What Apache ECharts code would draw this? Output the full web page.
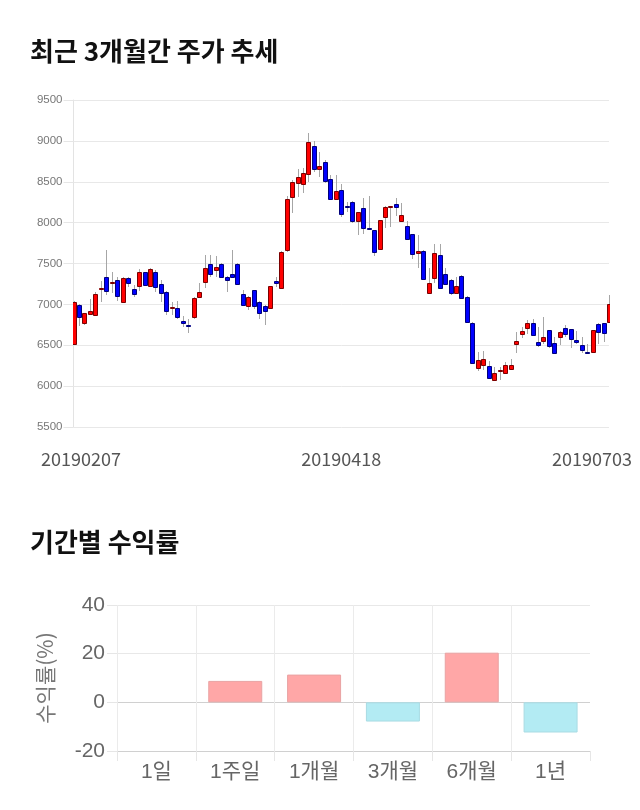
<!DOCTYPE html>
<html>
<head>
<meta charset="utf-8">
<script src="https://cdn.jsdelivr.net/npm/echarts@6/dist/echarts.min.js"></script>
<style>
html,body{margin:0;padding:0;background:#fff;}
#c{width:640px;height:810px;}
</style>
</head>
<body>
<div id="c"></div>
<script>
// ---- Candlestick data (daily, 99 trading days) ----
const opens = [6520,6990,6770,6880,6870,7195,7330,7260,7300,7035,7325,7185,7225,7390,7225,7400,7250,7155,6960,6955,6800,6750,6845,7095,7275,7490,7425,7500,7330,7370,7500,7125,6975,7175,7035,6980,6955,7280,7200,7665,8310,8480,8475,8590,8935,8660,8740,8530,8295,8400,8200,8250,8015,8175,7940,7910,7675,8065,8195,8230,8025,7960,7860,7625,7655,7145,7320,7605,7370,7300,7145,7345,7095,6775,6220,6260,6245,6075,6190,6160,6205,6510,6640,6705,6770,6545,6555,6685,6525,6600,6715,6695,6565,6505,6420,6415,6760,6770,6780];
const closes = [7030,6840,6890,6915,7125,7200,7165,7275,7100,7325,7265,7125,7400,7235,7430,7210,7145,6925,6965,6850,6770,6745,7080,7155,7440,7370,7455,7330,7295,7330,7245,6990,7090,6980,6890,6925,7220,7265,7640,8285,8500,8555,8605,8985,8650,8695,8515,8295,8390,8100,8195,8015,8125,7930,7935,7645,8030,8190,8200,8195,8095,7795,7615,7655,7310,7265,7625,7195,7245,7135,7225,7075,6790,6280,6320,6330,6095,6165,6195,6260,6260,6555,6675,6770,6625,6500,6600,6490,6410,6665,6635,6575,6540,6440,6415,6685,6665,6655,7000];
const lows = [6500,6740,6750,6870,6860,7030,7115,7140,7045,7020,7215,7095,7165,7225,7210,7155,7035,6870,6870,6820,6720,6650,6820,7085,7195,7340,7340,7320,7155,7320,7240,6980,6930,6940,6820,6750,6950,7210,7190,7645,8120,8315,8360,8500,8615,8555,8490,8275,8280,8065,8135,8000,7850,7860,7930,7590,7670,7930,7950,8075,8020,7790,7550,7440,7300,7125,7260,7190,7240,7110,7140,7070,6780,6275,6190,6200,6090,6060,6075,6150,6200,6410,6585,6640,6620,6480,6520,6465,6400,6505,6600,6465,6520,6410,6410,6410,6515,6545,6775];
const highs = [7040,7000,6900,7065,7150,7280,7665,7390,7330,7340,7340,7240,7430,7400,7440,7420,7300,7160,7035,7045,6860,6820,7085,7260,7605,7605,7590,7510,7350,7665,7510,7175,7100,7180,7040,6990,7225,7340,7650,8325,8520,8650,8665,9100,9000,8870,8765,8580,8580,8470,8255,8260,8135,8300,8320,7915,8035,8200,8205,8300,8245,8015,7865,7850,7660,7440,7740,7740,7440,7305,7340,7360,7100,6780,6420,6435,6310,6230,6230,6300,6330,6665,6725,6810,6820,6725,6850,6690,6600,6670,6750,6700,6680,6605,6510,6690,6770,6775,7115];
const priceTickMin = 5500, priceTickMax = 9500, priceTickStep = 500;
// x-axis tick labels: [candle index, label]
const dateTicks = [[1,'20190207'],[49,'20190418'],[98,'20190703']];
const dayIndex = opens.map((_, i) => String(i));

// ---- Period returns ----
const periods = ['1일','1주일','1개월','3개월','6개월','1년'];
const returns = [0, 8.8, 11.4, -7.9, 20.4, -12.4];

const chart = echarts.init(document.getElementById('c'), null, {renderer:'canvas'});
const tickMap = {};
dateTicks.forEach(d => tickMap[d[0]] = d[1]);

const candleData = opens.map((o, i) => [i, o, closes[i], lows[i], highs[i]]);

function renderCandle(params, api) {
  const i = api.value(0);
  const o = api.value(1), c = api.value(2), l = api.value(3), h = api.value(4);
  const po = api.coord([i, o]);
  const pc = api.coord([i, c]);
  const pl = api.coord([i, l]);
  const ph = api.coord([i, h]);
  const cx = Math.round(po[0]);
  const up = c > o;
  let top = Math.round(Math.min(po[1], pc[1]));
  let bot = Math.round(Math.max(po[1], pc[1]));
  if (bot - top < 1) bot = top + 1;
  const fill = up ? '#ff0000' : '#0000ff';
  const stroke = up ? '#7a0000' : '#00007a';
  return {
    type: 'group',
    children: [
      {type:'line', shape:{x1:cx+0.5, y1:Math.round(ph[1]), x2:cx+0.5, y2:Math.round(pl[1])},
       style:{stroke:'#a6a6a6', lineWidth:1}},
      {type:'rect', shape:{x:cx-1.5, y:top+0.5, width:4, height:bot-top},
       style:{fill:fill, stroke:stroke, lineWidth:1}}
    ]
  };
}

const barFont = 21;
const option = {
  animation: false,
  backgroundColor: '#fff',
  title: [
    {text:'최근 3개월간 주가 추세', left:30, top:38, padding:0,
     textStyle:{fontSize:26, fontWeight:'bold', color:'#111', fontFamily:'Noto Sans CJK KR'}},
    {text:'기간별 수익률', left:30, top:529, padding:0,
     textStyle:{fontSize:26, fontWeight:'bold', color:'#111', fontFamily:'Noto Sans CJK KR'}}
  ],
  grid: [
    {left:73.5, right:31, top:100, bottom:383},
    {left:117, right:50, top:605, bottom:59}
  ],
  xAxis: [
    {type:'category', gridIndex:0, data:dayIndex, boundaryGap:false,
     axisLine:{show:false}, axisTick:{show:false}, splitLine:{show:false},
     axisLabel:{
       interval:(idx) => tickMap[idx] !== undefined,
       margin:23, fontSize:18, color:'#555', fontFamily:'Noto Sans CJK KR',
       formatter:(v, idx) => {
         const t = tickMap[idx];
         if (!t) return '';
         if (idx === 1) return '{a|' + t + '}';
         if (idx === 98) return '{c|' + t + '}';
         return '{b|' + t + '}';
       },
       rich:{
         a:{fontSize:18, color:'#555', fontFamily:'Noto Sans CJK KR', padding:[0,0,0,4]},
         b:{fontSize:18, color:'#555', fontFamily:'Noto Sans CJK KR'},
         c:{fontSize:18, color:'#555', fontFamily:'Noto Sans CJK KR', padding:[0,34,0,0]}
       }
     }},
    {type:'category', gridIndex:1, data:periods, boundaryGap:true,
     axisLine:{show:true, onZero:false, lineStyle:{color:'#d0d0d0'}},
     axisTick:{show:true, length:10, lineStyle:{color:'#e6e6e6'}},
     splitLine:{show:true, showMaxLine:false, lineStyle:{color:'#ebebeb'}},
     axisLabel:{margin:11, fontSize:barFont, color:'#666', fontFamily:'Liberation Sans, Noto Sans CJK KR'}}
  ],
  yAxis: [
    {type:'value', gridIndex:0, min:priceTickMin, max:priceTickMax, interval:priceTickStep,
     axisLine:{show:true, lineStyle:{color:'#e3e3e3'}},
     axisTick:{show:true, length:10, lineStyle:{color:'#e6e6e6'}},
     splitLine:{show:true, lineStyle:{color:'#e8e8e8'}},
     axisLabel:{margin:11, fontSize:11.5, color:'#777', fontFamily:'Liberation Sans',
       formatter:(v) => String(v)}},
    {type:'value', gridIndex:1, min:-20, max:40, interval:20,
     name:'수익률(%)', nameLocation:'middle', nameGap:61, nameRotate:90,
     nameTextStyle:{fontSize:barFont, color:'#777', fontFamily:'Noto Sans CJK KR'},
     axisLine:{show:false},
     axisTick:{show:true, length:10, lineStyle:{color:'#e6e6e6'}},
     splitLine:{show:true, lineStyle:{color:['#d0d0d0','#d0d0d0','#e8e8e8','#e8e8e8']}},
     axisLabel:{margin:12, fontSize:barFont, color:'#666', fontFamily:'Liberation Sans',
       formatter:(v) => String(v)}}
  ],
  series: [
    {type:'custom', xAxisIndex:0, yAxisIndex:0, data:candleData, clip:true,
     renderItem:renderCandle, encode:{x:0, y:[1,2,3,4]}},
    {type:'bar', xAxisIndex:1, yAxisIndex:1, barWidth:54,
     data:returns.map(v => ({value:v, itemStyle: v === 0
       ? {color:'rgba(0,0,0,0)', borderWidth:0}
       : v > 0
       ? {color:'#ffa7a7', borderColor:'#e9a3a3', borderWidth:1}
       : {color:'#b3ebf3', borderColor:'#a9dbe3', borderWidth:1}}))}
  ]
};
chart.setOption(option);
</script>
</body>
</html>
